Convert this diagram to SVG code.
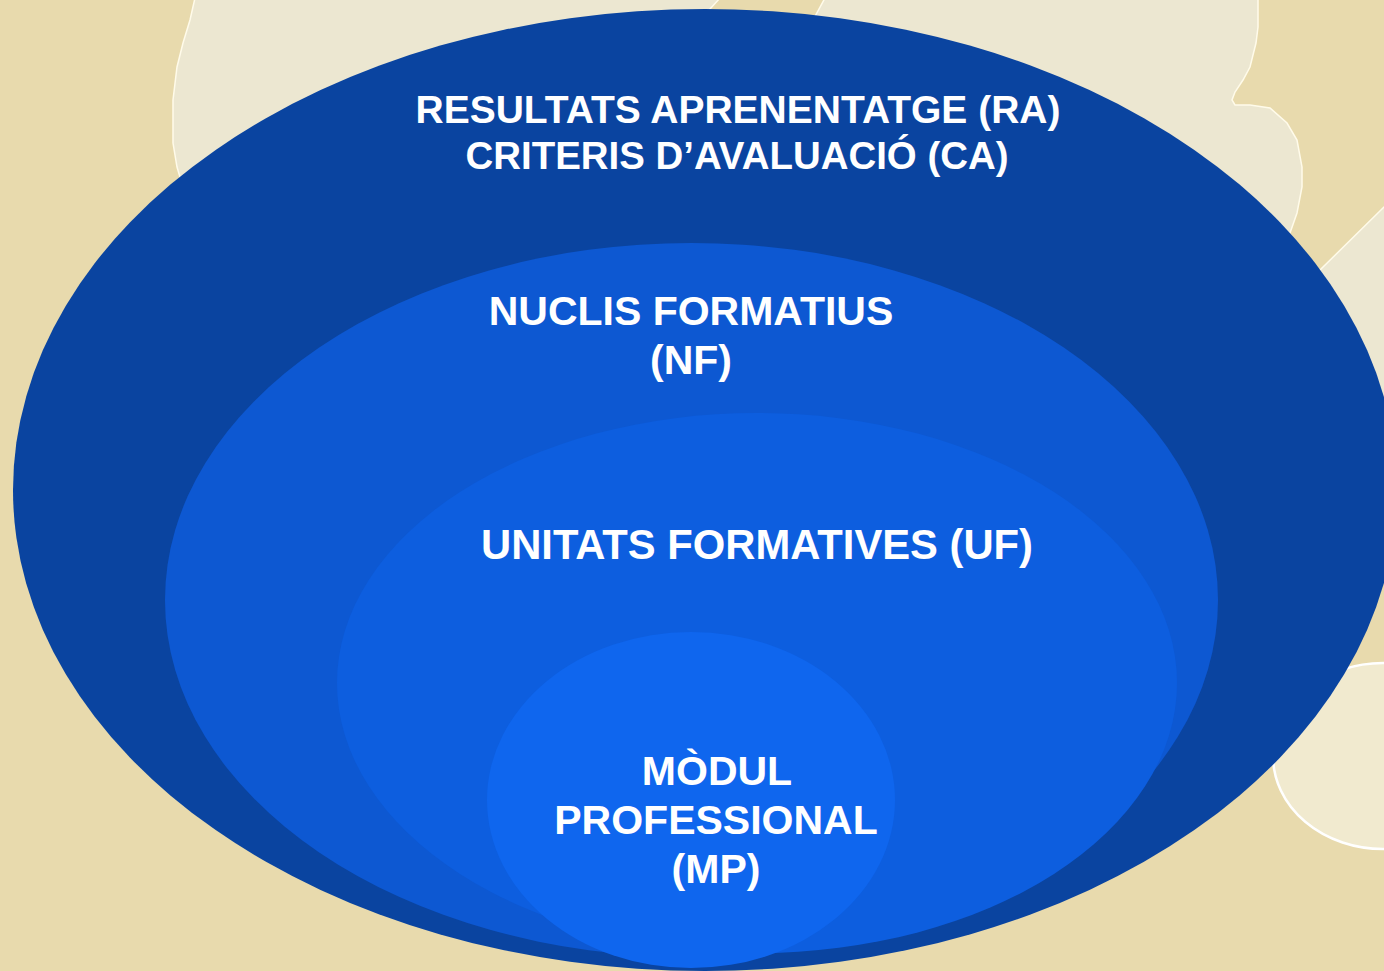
<svg xmlns="http://www.w3.org/2000/svg" width="1384" height="971" viewBox="0 0 1384 971">
  <style>
    .bg { fill: #E8DAAD; }
    .land { fill: #ECE7D1; stroke: #FFFBEA; stroke-width: 1.5; }
    .gap { fill: #E8DAAD; stroke: #FFFBEA; stroke-width: 1.5; }
    .lbl { font-family: "Liberation Sans", Arial, sans-serif; font-weight: bold; fill: #FFFFFF; text-anchor: middle; }
    .l38 { font-size: 38.6px; }
    .l41 { font-size: 41px; }
    .l42 { font-size: 41.8px; }
  </style>
  <g id="background">
    <rect class="bg" x="0" y="0" width="1384" height="971"/>
    <path class="land" d="M195,-2 L190,20 L183,43 L177,67 L173,100 L173,143 L177,167 L180,177 L200,260 L1250,260 L1290,233 L1297,213 L1302,187 L1302,167 L1297,140 L1287,123 L1270,108 L1250,105 L1235,105 L1232,100 L1235,92 L1243,80 L1250,67 L1256,43 L1258,27 L1258,-2 Z"/>
    <path class="gap" d="M720,-2 L825,-2 L813,20 L700,20 Z"/>
    <path class="land" d="M1386,205 L1318,272 L1370,420 L1386,420 Z"/>
    <ellipse cx="1383" cy="756" rx="110" ry="93" fill="#F1EACF" stroke="#FFFFFF" stroke-width="2.5"/>
  </g>
  <g id="connectors"/>
  <g id="node-ra">
    <ellipse cx="705" cy="490" rx="692" ry="481" fill="#0A44A0"/>
    <text class="lbl l38" x="738" y="123" textLength="645" lengthAdjust="spacingAndGlyphs">RESULTATS APRENENTATGE (RA)</text>
    <text class="lbl l38" x="737" y="169" textLength="543" lengthAdjust="spacingAndGlyphs">CRITERIS D’AVALUACIÓ (CA)</text>
  </g>
  <g id="node-nf">
    <ellipse cx="691.5" cy="600" rx="526.5" ry="357" fill="#0D58D2"/>
    <text class="lbl l41" x="691" y="325">NUCLIS FORMATIUS</text>
    <text class="lbl l41" x="691" y="374">(NF)</text>
  </g>
  <g id="node-uf">
    <ellipse cx="757" cy="683" rx="420" ry="270" fill="#0D5EDF"/>
    <text class="lbl l42" x="757" y="559" textLength="552" lengthAdjust="spacingAndGlyphs">UNITATS FORMATIVES (UF)</text>
  </g>
  <g id="node-mp">
    <ellipse cx="691" cy="800" rx="204" ry="168" fill="#0F66EE"/>
    <text class="lbl l41" x="717" y="785">MÒDUL</text>
    <text class="lbl l41" x="716" y="834">PROFESSIONAL</text>
    <text class="lbl l41" x="716" y="883">(MP)</text>
  </g>
</svg>
